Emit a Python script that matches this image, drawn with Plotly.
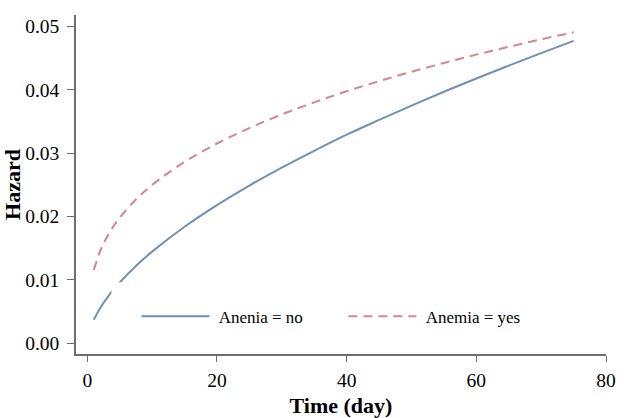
import plotly.graph_objects as go

time_days = [1, 2, 3, 4, 5, 7.5, 10, 15, 20, 25, 30, 35, 40, 45, 50, 55, 60, 65, 70, 75]

# Hazard, Anenia = no (solid blue)
hazard_no = [0.0037, 0.00558, 0.00709, 0.00841, 0.00959, 0.0122, 0.01446, 0.01838,
             0.0218, 0.02488, 0.02771, 0.03036, 0.0329, 0.03523, 0.0375, 0.03967,
             0.04177, 0.04379, 0.04576, 0.0477]

# Hazard, Anemia = yes (dashed red)
hazard_yes = [0.01155, 0.01457, 0.01669, 0.0184, 0.0198, 0.02268, 0.02498, 0.02861,
              0.03151, 0.03395, 0.03609, 0.038, 0.03975, 0.04134, 0.04283, 0.04421,
              0.04553, 0.04676, 0.04794, 0.04905]

x_ticks = [0, 20, 40, 60, 80]
y_ticks = [0.00, 0.01, 0.02, 0.03, 0.04, 0.05]
y_tick_labels = ["0.00", "0.01", "0.02", "0.03", "0.04", "0.05"]
series_names = ["Anenia = no", "Anemia = yes"]

BLUE = "#7191B4"
RED = "#D5868E"
AXIS = "#6e6e6e"
FONT = "Liberation Serif, Times New Roman, serif"
NBSP = "\u00a0"

fig = go.Figure()
fig.add_trace(go.Scatter(x=time_days, y=hazard_no, mode="lines", name=NBSP + series_names[0],
                         line=dict(color=BLUE, width=2, shape="spline")))
fig.add_trace(go.Scatter(x=time_days, y=hazard_yes, mode="lines", name=NBSP + series_names[1],
                         line=dict(color=RED, width=2, dash="9px,6px", shape="spline")))

# white legend box area (covers the part of the curve behind the legend)
fig.add_shape(type="rect", xref="paper", yref="paper", x0=0.067, x1=0.86, y0=0.06, y1=0.212,
              fillcolor="white", line=dict(width=0), layer="above")

fig.update_layout(
    width=633, height=418,
    margin=dict(l=76, r=27, t=15, b=64),
    plot_bgcolor="white", paper_bgcolor="white",
    font=dict(family=FONT, size=18, color="black"),
    showlegend=True,
    legend=dict(orientation="h", x=0.114, y=0.163, xanchor="left", yanchor="top",
                bgcolor="rgba(0,0,0,0)", borderwidth=0, itemwidth=68,
                entrywidth=124, entrywidthmode="pixels",
                font=dict(family=FONT, size=17, color="black")),
)
fig.update_xaxes(range=[-1.74, 80], tickvals=x_ticks, ticks="outside", ticklen=6,
                 tickcolor=AXIS, showline=True, linecolor=AXIS, linewidth=1.5,
                 showgrid=False, zeroline=False, tickfont=dict(family=FONT, size=19.5),
                 ticklabelstandoff=2, automargin=False,
                 title=dict(text="<b>Time (day)</b>", font=dict(family=FONT, size=22), standoff=8))
fig.update_yaxes(range=[-0.00169, 0.05178], tickvals=y_ticks, ticktext=y_tick_labels,
                 ticks="outside", ticklen=7, tickcolor=AXIS, showline=True, linecolor=AXIS,
                 linewidth=1.5, showgrid=False, zeroline=False, tickfont=dict(family=FONT, size=19.5),
                 ticklabelstandoff=4, automargin=False,
                 title=dict(text="<b>Hazard</b>", font=dict(family=FONT, size=22), standoff=14))

fig.write_html("out.html", config={"displayModeBar": False},
               post_script="document.body.style.margin='0';")
